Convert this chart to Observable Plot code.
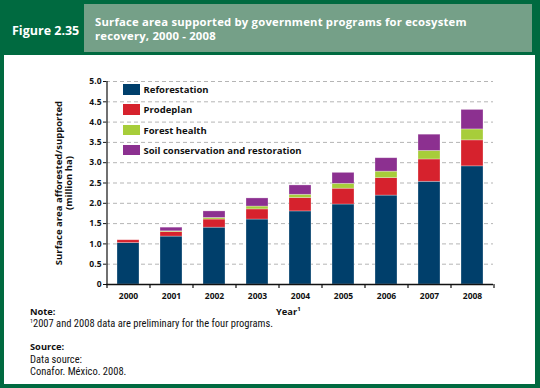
<!DOCTYPE html>
<html>
<head>
<meta charset="utf-8">
<script src="https://cdn.jsdelivr.net/npm/d3@7"></script>
<script src="https://cdn.jsdelivr.net/npm/@observablehq/plot@0.6"></script>
<style>
  html, body { margin: 0; padding: 0; }
  body { width: 540px; height: 388px; background: #006a40; position: relative; overflow: hidden; font-family: "Open Sans", "DejaVu Sans", sans-serif; }
  .abs { position: absolute; white-space: nowrap; }
  #panel { left: 4px; top: 55px; width: 531px; height: 329px; background: #fff; }
  #titlebox { left: 84px; top: 4px; width: 448px; height: 48px; background: #75a088; }
  #fig { left: 12px; top: 24px; color: #fff; font-weight: bold; font-size: 12.5px; line-height: 14px; }
  #title { left: 95px; top: 15px; color: #fff; font-weight: bold; font-size: 11.3px; line-height: 13.5px; letter-spacing: 0.2px; }
  #chart { left: 0; top: 60px; }
  #legend { left: 123px; top: 84px; font-weight: bold; font-size: 9.5px; color: #111; }
  .row { height: 20.3px; display: flex; align-items: flex-start; }
  .sw { width: 17px; height: 10.5px; margin-right: 3.5px; }
  .row span { line-height: 11px; }
  .note { font-size: 10.5px; line-height: 12px; color: #111; font-family: "Liberation Sans Narrow", "Roboto Condensed", "Open Sans", sans-serif; }
  .b { font-weight: bold; font-family: "Open Sans", sans-serif; font-size: 9.3px; line-height: 11px; color:#111; }
  sup { font-size: 6px; vertical-align: 4px; line-height: 0; }
</style>
</head>
<body>
<div class="abs" id="panel"></div>
<div class="abs" id="titlebox"></div>
<div class="abs" id="fig">Figure 2.35</div>
<div class="abs" id="title">Surface area supported by government programs for ecosystem<br>recovery, 2000 - 2008</div>
<div class="abs" id="chart"></div>
<div class="abs" id="legend"></div>
<div class="abs b" style="left:276px; top:306px;">Year<sup>1</sup></div>
<div class="abs b" style="left:30px; top:306px;">Note:</div>
<div class="abs note" style="left:30px; top:318px;"><sup>1</sup>2007 and 2008 data are preliminary for the four programs.</div>
<div class="abs b" style="left:30px; top:341px;">Source:</div>
<div class="abs note" style="left:30px; top:354px;">Data source:</div>
<div class="abs note" style="left:30px; top:366px;">Conafor. México. 2008.</div>
<script>
const years = ["2000","2001","2002","2003","2004","2005","2006","2007","2008"];
const series = ["Reforestation","Prodeplan","Forest health","Soil conservation and restoration"];
const colors = ["#003f6b","#d6222d","#a7cd3a","#8c3090"];
const reforestation = [1.02, 1.18, 1.40, 1.60, 1.80, 1.97, 2.19, 2.53, 2.91];
const prodeplan     = [0.07, 0.11, 0.20, 0.25, 0.33, 0.39, 0.43, 0.55, 0.64];
const forestHealth  = [0.00, 0.02, 0.04, 0.07, 0.08, 0.12, 0.16, 0.21, 0.27];
const soil          = [0.00, 0.09, 0.16, 0.20, 0.23, 0.27, 0.33, 0.40, 0.48];
const yTicks = [0, 0.5, 1, 1.5, 2, 2.5, 3, 3.5, 4, 4.5, 5];
const yLabel = "Surface area afforested/supported\n(million ha)";

const seriesValues = [reforestation, prodeplan, forestHealth, soil];
const data = [];
seriesValues.forEach((vals, si) => vals.forEach((v, i) => data.push({year: years[i], series: series[si], value: v})));

const W = 540, H = 260, mL = 106, mR = 47, mT = 21, mB = 36;
const step = (W - mL - mR) / years.length;

const chart = Plot.plot({
  width: W, height: H,
  marginLeft: mL, marginRight: mR, marginTop: mT, marginBottom: mB,
  style: {fontFamily: "'Open Sans', sans-serif", color: "#111", background: "transparent"},
  x: {domain: years, paddingInner: 0.5, paddingOuter: 0.25},
  y: {domain: [0, 5]},
  color: {domain: series, range: colors},
  marks: [
    Plot.gridY(yTicks.filter(d => d > 0), {stroke: "#b5b5b5", strokeOpacity: 1, strokeDasharray: "4,3"}),
    Plot.barY(data, {x: "year", y: "value", fill: "series", stroke: "white", strokeOpacity: 0.4, strokeWidth: 0.7}),
    Plot.ruleY([0], {stroke: "#111", strokeWidth: 1.3}),
    Plot.ruleX([years[0]], {dx: -step / 2, stroke: "#111", strokeWidth: 1.2}),
    Plot.ruleX([years[0]], {dx: -step / 2, y1: 0, y2: -0.1, stroke: "#111", strokeWidth: 1.2}),
    Plot.ruleX(years, {dx: step / 2, y1: 0, y2: -0.1, stroke: "#111", strokeWidth: 1.2}),
    Plot.axisY({ticks: yTicks, tickSize: 3, tickPadding: 2, label: null, fontWeight: "bold", fontSize: 8.5,
      tickFormat: d => d === 0 ? "0" : d.toFixed(1)}),
    Plot.axisX({tickSize: 0, tickPadding: 8, label: null, fontWeight: "bold", fontSize: 8.5}),
    Plot.text([yLabel], {frameAnchor: "left", textAnchor: "middle", lineAnchor: "middle", rotate: -90, dx: -43, lineHeight: 1.1, fontWeight: "bold", fontSize: 9.5, fill: "#111"})
  ]
});
document.getElementById("chart").appendChild(chart);

const legend = document.getElementById("legend");
series.forEach((s, i) => {
  const row = document.createElement("div");
  row.className = "row";
  const sw = document.createElement("div");
  sw.className = "sw";
  sw.style.background = colors[i];
  const t = document.createElement("span");
  t.textContent = s;
  row.appendChild(sw); row.appendChild(t);
  legend.appendChild(row);
});
</script>
</body>
</html>
